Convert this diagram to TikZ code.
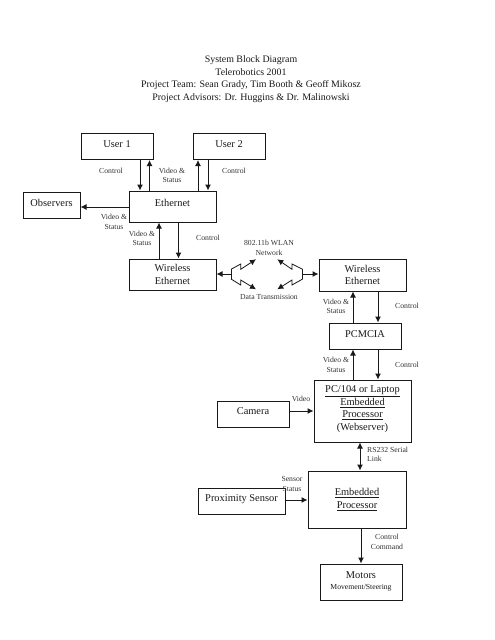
\documentclass[tikz,border=0pt]{standalone}
\usepackage{fontspec}
\setmainfont{Liberation Serif}
\usetikzlibrary{arrows.meta}
\tikzset{
  x=1pt,y=-1pt,
  box/.style={draw=black!90,line width=1pt,inner sep=0pt,align=center,anchor=center,
    font=\fontsize{10.4}{12.4}\selectfont,text=black!90},
  lab/.style={inner sep=0pt,align=center,font=\fontsize{7.7}{9.5}\selectfont,text=black!80},
  ttl/.style={inner sep=0pt,align=center,font=\fontsize{9.9}{12.6}\selectfont,text=black!90},
  arr/.style={draw=black!90,line width=1pt,-{Latex[length=6pt,width=6pt]}},
  darr/.style={draw=black!90,line width=1pt,{Latex[length=6pt,width=6pt]}-{Latex[length=6pt,width=6pt]}},
  bolt/.style={draw=black!90,line width=0.8pt,-{Latex[length=6pt,width=6pt]}},
  joint/.style={draw=black!90,line width=0.8pt}
}
\begin{document}
\begin{tikzpicture}
\useasboundingbox (0,0) rectangle (495,640);
\fill[white] (0,0) rectangle (495,640);
\node[ttl] (title) at (251,79) {System Block Diagram\\Telerobotics 2001\\Project Team: Sean Grady, Tim Booth \& Geoff Mikosz\\Project Advisors: Dr. Huggins \& Dr. Malinowski};
% boxes
\node[box,minimum width=72pt,minimum height=26pt,text depth=5pt] (u1) at (117,146.5) {User 1};
\node[box,minimum width=72pt,minimum height=26pt,text depth=5pt] (u2) at (229,146.5) {User 2};
\node[box,minimum width=87pt,minimum height=31pt,text depth=8pt] (eth) at (172.5,206.5) {Ethernet};
\node[box,minimum width=57pt,minimum height=26pt,text depth=5pt] (obs) at (51.5,205) {Observers};
\node[box,minimum width=87pt,minimum height=31pt] (wl) at (172.5,274.5) {Wireless\\Ethernet};
\node[box,minimum width=87pt,minimum height=32pt] (wr) at (362.5,275) {Wireless\\Ethernet};
\node[box,minimum width=72pt,minimum height=26pt,text depth=3pt] (pc) at (365,336) {PCMCIA};
\node[box,minimum width=97pt,minimum height=62pt,text depth=6pt] (pro) at (362.5,411) {\underline{PC/104 or Laptop}\\\underline{Embedded}\\\underline{Processor}\\(Webserver)};
\node[box,minimum width=72pt,minimum height=26pt,text depth=5pt] (cam) at (253,414) {Camera};
\node[box,minimum width=98pt,minimum height=57pt] (emb) at (357,499.5) {\underline{Embedded}\\\underline{Processor}};
\node[box,minimum width=87pt,minimum height=26pt,text depth=5pt] (prox) at (241.5,501) {Proximity Sensor};
\node[box,minimum width=82pt,minimum height=36pt,text depth=3pt] (mot) at (361,582) {Motors\\[-2pt]{\fontsize{7.7}{9}\selectfont Movement/Steering}};
% columns and rows for the connectors
\coordinate (c140) at (140,0);
\coordinate (c149) at (149.5,0);
\coordinate (c198) at (198,0);
\coordinate (c208) at (208,0);
\coordinate (c159) at (159,0);
\coordinate (c178) at (178.5,0);
\coordinate (c353) at (353,0);
\coordinate (c378) at (378,0);
\coordinate (c360) at (360,0);
\coordinate (c361) at (361,0);
\coordinate (r207) at (0,207);
\coordinate (r411) at (0,411);
\coordinate (r500) at (0,500);
% connectors
\draw[arr] (u1.south -| c140) -- (eth.north -| c140);
\draw[arr] (eth.north -| c149) -- (u1.south -| c149);
\draw[arr] (eth.north -| c198) -- (u2.south -| c198);
\draw[arr] (u2.south -| c208) -- (eth.north -| c208);
\draw[arr] (eth.west |- r207) -- (obs.east |- r207);
\draw[arr] (wl.north -| c159) -- (eth.south -| c159);
\draw[arr] (eth.south -| c178) -- (wl.north -| c178);
\draw[arr] (pc.north -| c353) -- (wr.south -| c353);
\draw[arr] (wr.south -| c378) -- (pc.north -| c378);
\draw[arr] (pro.north -| c353) -- (pc.south -| c353);
\draw[arr] (pc.south -| c378) -- (pro.north -| c378);
\draw[arr] (cam.east |- r411) -- (pro.west |- r411);
\draw[darr] (pro.south -| c360) -- (emb.north -| c360);
\draw[arr] (prox.east |- r500) -- (emb.west |- r500);
\draw[arr] (emb.south -| c361) -- (mot.north -| c361);
% wireless link
\coordinate (jl) at (231,274);
\coordinate (jr) at (302.7,274);
\coordinate (tl) at (256,259.3);
\coordinate (bl) at (256,289.3);
\coordinate (tr) at (277.3,259.3);
\coordinate (br) at (277.3,289.3);
\draw[arr] (jl) -- (wl.east |- jl);
\draw[arr] (jr) -- (wr.west |- jr);
\draw[joint] (231,269.3) -- (231,279);
\draw[joint] (302.7,269.3) -- (302.7,279);
\draw[bolt] (231,269.3) -- (240.7,264) -- (240.7,269.3) -- (tl);
\draw[bolt] (231,279) -- (240.7,285) -- (240.7,280) -- (bl);
\draw[bolt] (302.7,269.3) -- (292,264) -- (292,269.3) -- (tr);
\draw[bolt] (302.7,279) -- (292,285) -- (292,280) -- (br);
% labels
\node[lab] (l1) at (111,171) {Control};
\node[lab] (l2) at (172,175.5) {Video \&\\Status};
\node[lab] (l3) at (234,171) {Control};
\node[lab] (l4) at (114,222) {Video \&\\Status};
\node[lab] (l5) at (142,238.5) {Video \&\\Status};
\node[lab] (l6) at (208,238) {Control};
\node[lab] (l7) at (269,248) {802.11b WLAN\\Network};
\node[lab] (l8) at (269,297) {Data Transmission};
\node[lab] (l9) at (336,306.5) {Video \&\\Status};
\node[lab] (l10) at (407,306) {Control};
\node[lab] (l11) at (336,365) {Video \&\\Status};
\node[lab] (l12) at (407,365) {Control};
\node[lab] (l13) at (301,399) {Video};
\node[lab,align=left,anchor=west] (l14) at (367,454.5) {RS232 Serial\\Link};
\node[lab] (l15) at (292,484) {Sensor\\Status};
\node[lab] (l16) at (387,542) {Control\\Command};
\end{tikzpicture}
\end{document}
